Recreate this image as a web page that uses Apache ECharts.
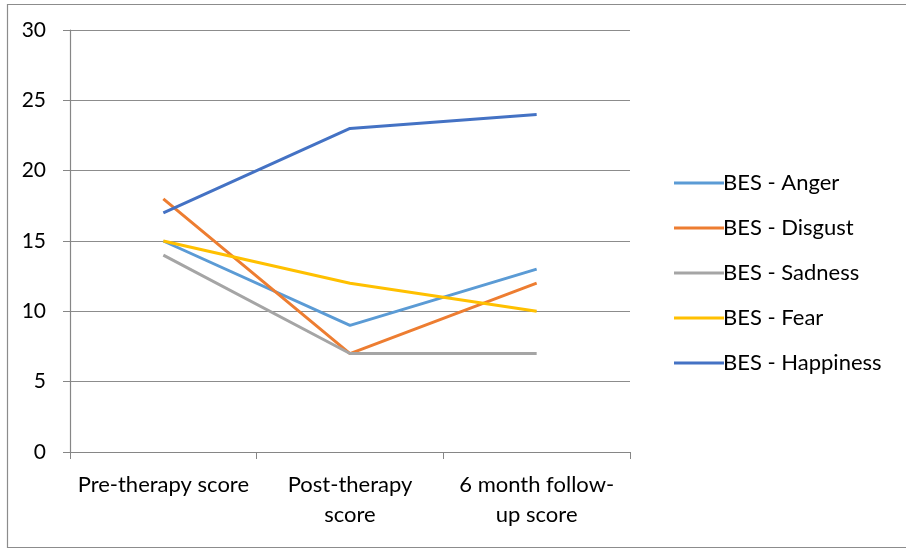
<!DOCTYPE html>
<html><head><meta charset="utf-8">
<script src="https://cdn.jsdelivr.net/npm/echarts@6/dist/echarts.min.js"></script>
<style>html,body{margin:0;padding:0;background:#fff}#c{width:906px;height:550px}</style>
</head><body><div id="c"></div>
<script>
const categories = ["Pre-therapy score", "Post-therapy\nscore", "6 month follow-\nup score"];
const yTicks = [0, 5, 10, 15, 20, 25, 30];
const seriesNames = ["BES - Anger", "BES - Disgust", "BES - Sadness", "BES - Fear", "BES - Happiness"];
const anger = [15, 9, 13];
const disgust = [18, 7, 12];
const sadness = [14, 7, 7];
const fear = [15, 12, 10];
const happiness = [17, 23, 24];
const colors = ["#5B9BD5", "#ED7D31", "#A5A5A5", "#FFC000", "#4472C4"];

const values = [anger, disgust, sadness, fear, happiness];
const FONT = "Lato, 'Open Sans', sans-serif";
const chart = echarts.init(document.getElementById('c'));
chart.setOption({
  animation: false,
  color: colors,
  graphic: [{
    type: 'rect', left: 5, top: 2,
    shape: { width: 920, height: 543 },
    style: { fill: 'none', stroke: '#8c8c8c', lineWidth: 1.2 }
  }],
  grid: { left: 70, right: 276, top: 30, bottom: 98 },
  legend: {
    orient: 'vertical', left: 669, top: 167,
    itemWidth: 50, itemHeight: 3, itemGap: 23,
    icon: 'rect',
    textStyle: { fontFamily: FONT, fontSize: 22, color: '#000', padding: [0, 0, 0, -6] },
    data: seriesNames
  },
  xAxis: {
    type: 'category', data: categories, boundaryGap: true,
    axisLine: { lineStyle: { color: '#868686', width: 1.2 } },
    axisTick: { show: true, length: 7, lineStyle: { color: '#868686' } },
    axisLabel: { fontFamily: FONT, fontSize: 22, color: '#000', margin: 18, lineHeight: 30, interval: 0 }
  },
  yAxis: {
    type: 'value', min: yTicks[0], max: yTicks[yTicks.length - 1], interval: 5,
    axisLine: { show: true, lineStyle: { color: '#868686', width: 1.2 } },
    axisTick: { show: true, length: 7, lineStyle: { color: '#868686' } },
    splitLine: { lineStyle: { color: '#8c8c8c', width: 1 } },
    axisLabel: { fontFamily: FONT, fontSize: 21, color: '#000', margin: 24 }
  },
  series: seriesNames.map((n, i) => ({
    name: n, type: 'line', data: values[i],
    symbol: 'none', lineStyle: { width: 3, color: colors[i] },
    itemStyle: { color: colors[i] }
  }))
});
</script></body></html>
